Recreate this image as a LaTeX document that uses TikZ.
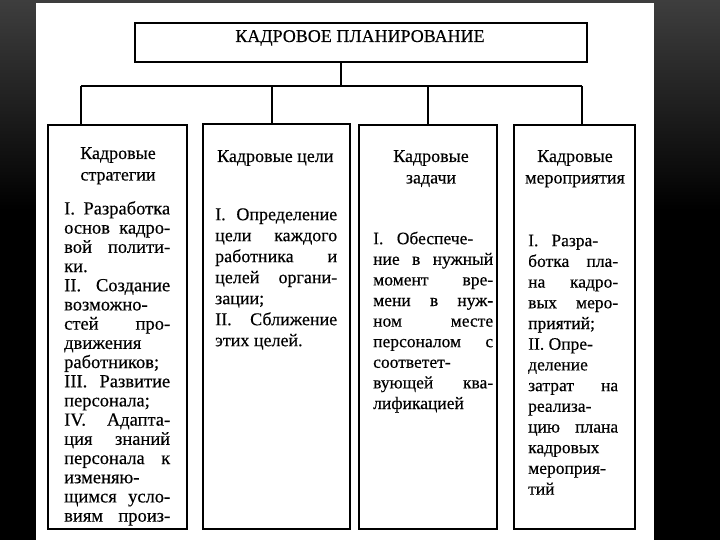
\documentclass[tikz,border=0pt]{standalone}
\usepackage{fontspec}
\setmainfont{Liberation Serif}[FakeBold=0.35]
\definecolor{bgtop}{RGB}{62,62,62}
\newcommand\ja[1]{\makebox[106pt][s]{#1}}
\newcommand\jb[1]{\makebox[122pt][s]{#1}}
\newcommand\jc[1]{\makebox[120pt][s]{#1}}
\newcommand\jd[1]{\makebox[90pt][s]{#1}}
\begin{document}
\begin{tikzpicture}[x=1pt,y=-1pt,
  colbox/.style={draw=black,line width=2pt,inner sep=0pt,anchor=north west},
  conn/.style={draw=black,line width=1.6pt},
  coltext/.style={inner sep=0pt,anchor=north west,align=left},
  headtext/.style={inner sep=0pt,anchor=north,align=center,font=\fontsize{18}{21.5}\selectfont}]
\useasboundingbox (0,0) rectangle (720,540);
% background
\fill[black] (0,0) rectangle (720,540);
\shade[top color=bgtop,bottom color=black] (0,0) rectangle (720,210);
\fill[white] (36,3) rectangle (654,540);
% title
\node[draw=black,line width=1.6pt,minimum width=452pt,minimum height=39pt,inner sep=0pt] (top) at (361,42.5) {};
\node[inner sep=0pt,anchor=base,font=\fontsize{18}{20}\selectfont] (toptext) at (360,42) {КАДРОВОЕ ПЛАНИРОВАНИЕ};
% boxes
\node[colbox,minimum width=139pt,minimum height=404pt] (b1) at (47,124) {};
\node[colbox,minimum width=147pt,minimum height=405pt] (b2) at (202,123) {};
\node[colbox,minimum width=138pt,minimum height=404pt] (b3) at (358,124) {};
\node[colbox,minimum width=121pt,minimum height=404pt] (b4) at (513,124) {};
% connectors
\coordinate (j) at (341,86);
\coordinate (d1) at (81,86);
\coordinate (d2) at (272,86);
\coordinate (d3) at (428,86);
\coordinate (d4) at (582,86);
\draw[draw=black,line width=1.2pt] (top.south -| j) -- (j);
\draw[conn] (d1) -- (d4);
\draw[conn] (d1) -- (d1 |- b1.north);
\draw[conn] (d2) -- (d2 |- b2.north);
\draw[conn] (d3) -- (d3 |- b3.north);
\draw[conn] (d4) -- (d4 |- b4.north);
% headings
\node[headtext] (h1) at (118,147) {Кадровые\\стратегии};
\node[inner sep=0pt,anchor=base west,font=\fontsize{18}{21}\selectfont] (h2) at (217,162) {Кадровые цели};
\node[headtext] (h3) at (431,150) {Кадровые\\задачи};
\node[headtext] (h4) at (575,150) {Кадровые\\мероприятия};
% column texts
\node[coltext,font=\fontsize{18.5}{19.2}\selectfont] (t1) at (64,201) {\rule{0pt}{13pt}\ja{I. Разработка}\\
\ja{основ кадро-}\\
\ja{вой полити-}\\
ки.\\
\ja{II. Создание}\\
возможно-\\
\ja{стей про-}\\
движения\\
работников;\\
\ja{III. Развитие}\\
персонала;\\
\ja{IV. Адапта-}\\
\ja{ция знаний}\\
\ja{персонала к}\\
изменяю-\\
\ja{щимся усло-}\\
\ja{виям произ-}};
\node[coltext,font=\fontsize{18}{21}\selectfont] (t2) at (215,207) {\rule{0pt}{13pt}\jb{I. Определение}\\
\jb{цели каждого}\\
\jb{работника и}\\
\jb{целей органи-}\\
зации;\\
\jb{II. Сближение}\\
этих целей.};
\node[coltext,font=\fontsize{17.5}{20.6}\selectfont] (t3) at (373,231) {\rule{0pt}{13pt}\makebox[100pt][s]{I. Обеспече-}\\
\jc{ние в нужный}\\
\jc{момент вре-}\\
\jc{мени в нуж-}\\
\jc{ном месте}\\
\jc{персоналом с}\\
соответет-\\
\jc{вующей ква-}\\
лификацией};
\node[coltext,font=\fontsize{17.5}{20.7}\selectfont] (t4) at (528,233) {\rule{0pt}{13pt}\makebox[70pt][s]{I. Разра-}\\
\jd{ботка пла-}\\
\jd{на кадро-}\\
\jd{вых меро-}\\
приятий;\\
II. Опре-\\
деление\\
\jd{затрат на}\\
реализа-\\
\jd{цию плана}\\
кадровых\\
мероприя-\\
тий};
\end{tikzpicture}
\end{document}
